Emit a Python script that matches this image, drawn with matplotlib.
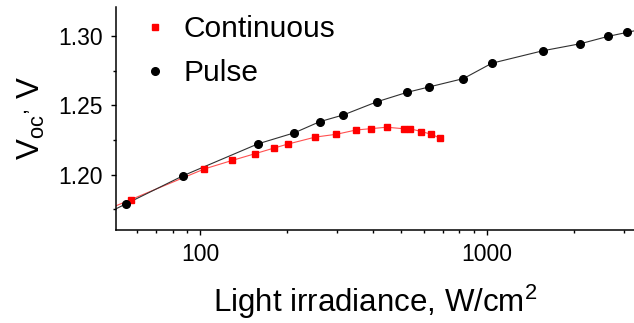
import numpy as np
import matplotlib
matplotlib.use("Agg")
import matplotlib.pyplot as plt
from matplotlib.ticker import LogLocator, FixedLocator, NullFormatter, MultipleLocator

plt.rcParams['font.family'] = ['Liberation Sans', 'DejaVu Sans']
plt.rcParams['mathtext.fontset'] = 'custom'
plt.rcParams['mathtext.rm'] = 'Liberation Sans'
plt.rcParams['mathtext.it'] = 'Liberation Sans'

# Data
pulse_x = [55.1, 87.3, 158.8, 212.9, 260.7, 315.5, 413, 524, 625, 826, 1038, 1563, 2114, 2641, 3076]
pulse_y = [1.1789, 1.1993, 1.2222, 1.2302, 1.2382, 1.2431, 1.2526, 1.2593, 1.2632, 1.2693,
           1.2804, 1.2894, 1.2945, 1.2998, 1.3027]
cont_x = [57.3, 103.3, 129, 154.6, 180.2, 201.6, 251.8, 298, 349, 395, 446, 513, 538, 589, 639, 685]
cont_y = [1.1820, 1.2041, 1.2102, 1.2150, 1.2191, 1.2220, 1.2271, 1.2291, 1.2322, 1.2332,
          1.2342, 1.2331, 1.2331, 1.2311, 1.2291, 1.2263]

xlim = (50.8, 3250)
ylim = (1.160, 1.321)


def extend(x, y, left=None, right=None):
    lx = np.log10(np.asarray(x, float))
    y = np.asarray(y, float)
    xs, ys = list(lx), list(y)
    if left is not None:
        l = np.log10(left)
        s = (y[1] - y[0]) / (lx[1] - lx[0])
        xs.insert(0, l)
        ys.insert(0, y[0] + s * (l - lx[0]))
    if right is not None:
        r = np.log10(right)
        s = (y[-1] - y[-2]) / (lx[-1] - lx[-2])
        xs.append(r)
        ys.append(y[-1] + s * (r - lx[-1]))
    return 10 ** np.array(xs), np.array(ys)


fig = plt.figure(figsize=(6.34, 3.23), dpi=100)
ax = fig.add_axes([116 / 634, 1 - 230 / 323, 1 - 116 / 634, (230 - 7) / 323])

px, py = extend(pulse_x, pulse_y, left=xlim[0], right=xlim[1])
cx, cy = extend(cont_x, cont_y, left=xlim[0])
ax.plot(cx, cy, '-', color='#ff5050', lw=0.8, zorder=2)
ax.plot(px, py, '-', color='#303030', lw=0.8, zorder=2)
ax.plot(cont_x, cont_y, 's', color='#ff0000', ms=4.8, mec='#ff0000', ls='none', zorder=3, label='Continuous')
ax.plot(pulse_x, pulse_y, 'o', color='black', ms=5.5, ls='none', zorder=4, label='Pulse')

ax.set_xscale('log')
ax.set_xlim(*xlim)
ax.set_ylim(*ylim)
ax.xaxis.set_major_locator(FixedLocator([100, 1000]))
ax.xaxis.set_major_formatter(matplotlib.ticker.FuncFormatter(lambda v, p: f"{int(v)}"))
ax.xaxis.set_minor_locator(LogLocator(base=10, subs=np.arange(2, 10)))
ax.xaxis.set_minor_formatter(NullFormatter())
ax.yaxis.set_major_locator(MultipleLocator(0.05))
ax.yaxis.set_minor_locator(MultipleLocator(0.025))
ax.yaxis.set_major_formatter(matplotlib.ticker.FuncFormatter(lambda v, p: f"{v:.2f}"))

for s in ['top', 'right']:
    ax.spines[s].set_visible(False)
for s in ['left', 'bottom']:
    ax.spines[s].set_linewidth(1.1)
ax.tick_params(which='major', direction='out', length=3.5, width=1.0, labelsize=16.5)
ax.tick_params(axis='x', which='major', pad=6)
ax.tick_params(axis='y', which='major', pad=6)
ax.tick_params(which='minor', direction='out', length=2.2, width=1.0)

ax.set_xlabel(r"Light irradiance, W/cm$^\mathregular{2}$", fontsize=22.5, labelpad=12)
ax.set_ylabel(r"V$_\mathregular{oc}$$^\mathregular{,}$ V", fontsize=22.5, labelpad=8)

leg = ax.legend(loc='upper left', bbox_to_anchor=(146 / 634, 1 - 15 / 323), bbox_transform=fig.transFigure,
                frameon=False, fontsize=21.5, handlelength=0.6, handletextpad=0.65,
                labelspacing=0.55, borderpad=0, borderaxespad=0)

fig.savefig('out.png', dpi=100)
